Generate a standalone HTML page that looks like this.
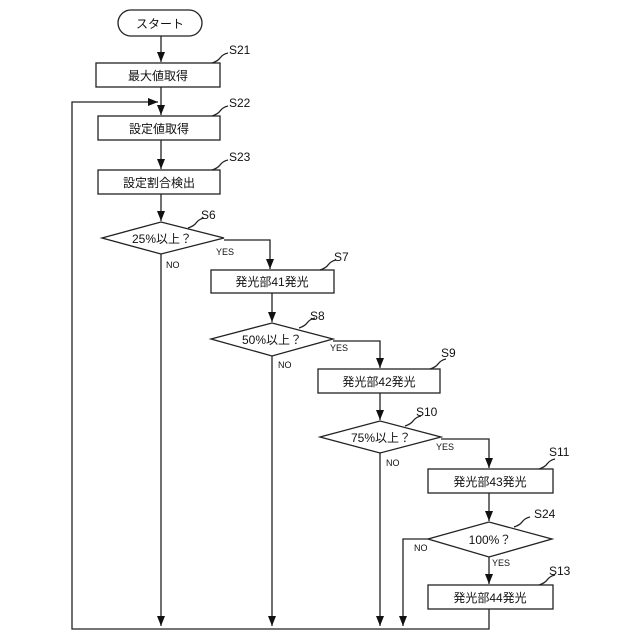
<!DOCTYPE html>
<html><head><meta charset="utf-8"><style>
html,body{margin:0;padding:0;background:#fff}
svg{display:block}
text{font-family:"Liberation Sans","Noto Sans CJK JP",sans-serif;fill:#111}
</style></head><body>
<svg width="640" height="640" viewBox="0 0 640 640" xmlns="http://www.w3.org/2000/svg">
<defs><marker id="a" markerWidth="10" markerHeight="10" refX="5" refY="9" orient="auto" markerUnits="userSpaceOnUse"><path d="M1,0 L9,0 L5,10 Z" fill="#111" transform="rotate(0)"/></marker>
<marker id="ar" viewBox="0 0 10 10" markerWidth="10" markerHeight="10" refX="10" refY="5" orient="auto" markerUnits="userSpaceOnUse"><path d="M0,1 L10,5 L0,9 Z" fill="#111"/></marker></defs>
<g stroke="#222" stroke-width="1.3" fill="none">
<rect x="118" y="10" width="84" height="26" rx="13" fill="#fff"/>
<rect x="96" y="63" width="124" height="24"/>
<rect x="98" y="116" width="122" height="24"/>
<rect x="98" y="170" width="122" height="24"/>
<polygon points="102,238 161,222 224,238 161,254"/>
<rect x="211" y="270" width="123" height="23"/>
<polygon points="211,339 272,323 333,339 272,356"/>
<rect x="318" y="369" width="122" height="24"/>
<polygon points="320,437 380,421 441,437 380,453"/>
<rect x="428" y="469" width="125" height="24"/>
<polygon points="428,539 489,522 552,539 489,557"/>
<rect x="428" y="585" width="125" height="24"/>
<!-- connectors -->
<path d="M161,36 V62" marker-end="url(#ar)"/>
<path d="M161,87 V115" marker-end="url(#ar)"/>
<path d="M161,140 V169" marker-end="url(#ar)"/>
<path d="M161,194 V221" marker-end="url(#ar)"/>
<path d="M224,240 H270 V269" marker-end="url(#ar)"/>
<path d="M272,293 V322" marker-end="url(#ar)"/>
<path d="M333,341 H380 V368" marker-end="url(#ar)"/>
<path d="M380,393 V420" marker-end="url(#ar)"/>
<path d="M441,439 H489 V468" marker-end="url(#ar)"/>
<path d="M489,493 V521" marker-end="url(#ar)"/>
<path d="M489,557 V584" marker-end="url(#ar)"/>
<path d="M161,254 V626" marker-end="url(#ar)"/>
<path d="M272,356 V626" marker-end="url(#ar)"/>
<path d="M380,453 V626" marker-end="url(#ar)"/>
<path d="M428,539 H403 V626" marker-end="url(#ar)"/>
<path d="M489,609 V629 H72 V102 H158" marker-end="url(#ar)"/>
<!-- squiggles -->
<path d="M212,63 q6,-2 8,-5 q3,-4 8,-5"/>
<path d="M212,116 q6,-2 8,-5 q3,-4 8,-5"/>
<path d="M212,170 q6,-2 8,-5 q3,-4 8,-5"/>
<path d="M188,228 q6,-2 8,-5 q3,-4 8,-5"/>
<path d="M320,270 q6,-2 8,-5 q3,-4 8,-5"/>
<path d="M299,328 q6,-2 8,-5 q3,-4 8,-5"/>
<path d="M430,369 q6,-2 8,-5 q3,-4 8,-5"/>
<path d="M405,426 q6,-2 8,-5 q3,-4 8,-5"/>
<path d="M539,469 q6,-2 8,-5 q3,-4 8,-5"/>
<path d="M514,527 q6,-2 8,-5 q3,-4 8,-5"/>
<path d="M539,585 q6,-2 8,-5 q3,-4 8,-5"/>
</g>
<g font-size="12" text-anchor="middle">
<text x="160" y="28">スタート</text>
<text x="158" y="80">最大値取得</text>
<text x="159" y="133">設定値取得</text>
<text x="159" y="187">設定割合検出</text>
<text x="162" y="243">25%以上？</text>
<text x="272" y="286">発光部41発光</text>
<text x="272" y="344">50%以上？</text>
<text x="379" y="386">発光部42発光</text>
<text x="381" y="442">75%以上？</text>
<text x="490" y="486">発光部43発光</text>
<text x="490" y="544">100%？</text>
<text x="490" y="602">発光部44発光</text>
</g>
<g font-size="12">
<text x="229" y="54">S21</text>
<text x="229" y="107">S22</text>
<text x="229" y="161">S23</text>
<text x="201" y="219">S6</text>
<text x="334" y="261">S7</text>
<text x="310" y="320">S8</text>
<text x="441" y="357">S9</text>
<text x="416" y="416">S10</text>
<text x="549" y="456">S11</text>
<text x="534" y="518">S24</text>
<text x="549" y="575">S13</text>
</g>
<g font-size="9">
<text x="216" y="255">YES</text>
<text x="166" y="268">NO</text>
<text x="330" y="351">YES</text>
<text x="278" y="368">NO</text>
<text x="436" y="450">YES</text>
<text x="386" y="466">NO</text>
<text x="414" y="551">NO</text>
<text x="492" y="566">YES</text>
</g>
</svg>
</body></html>
